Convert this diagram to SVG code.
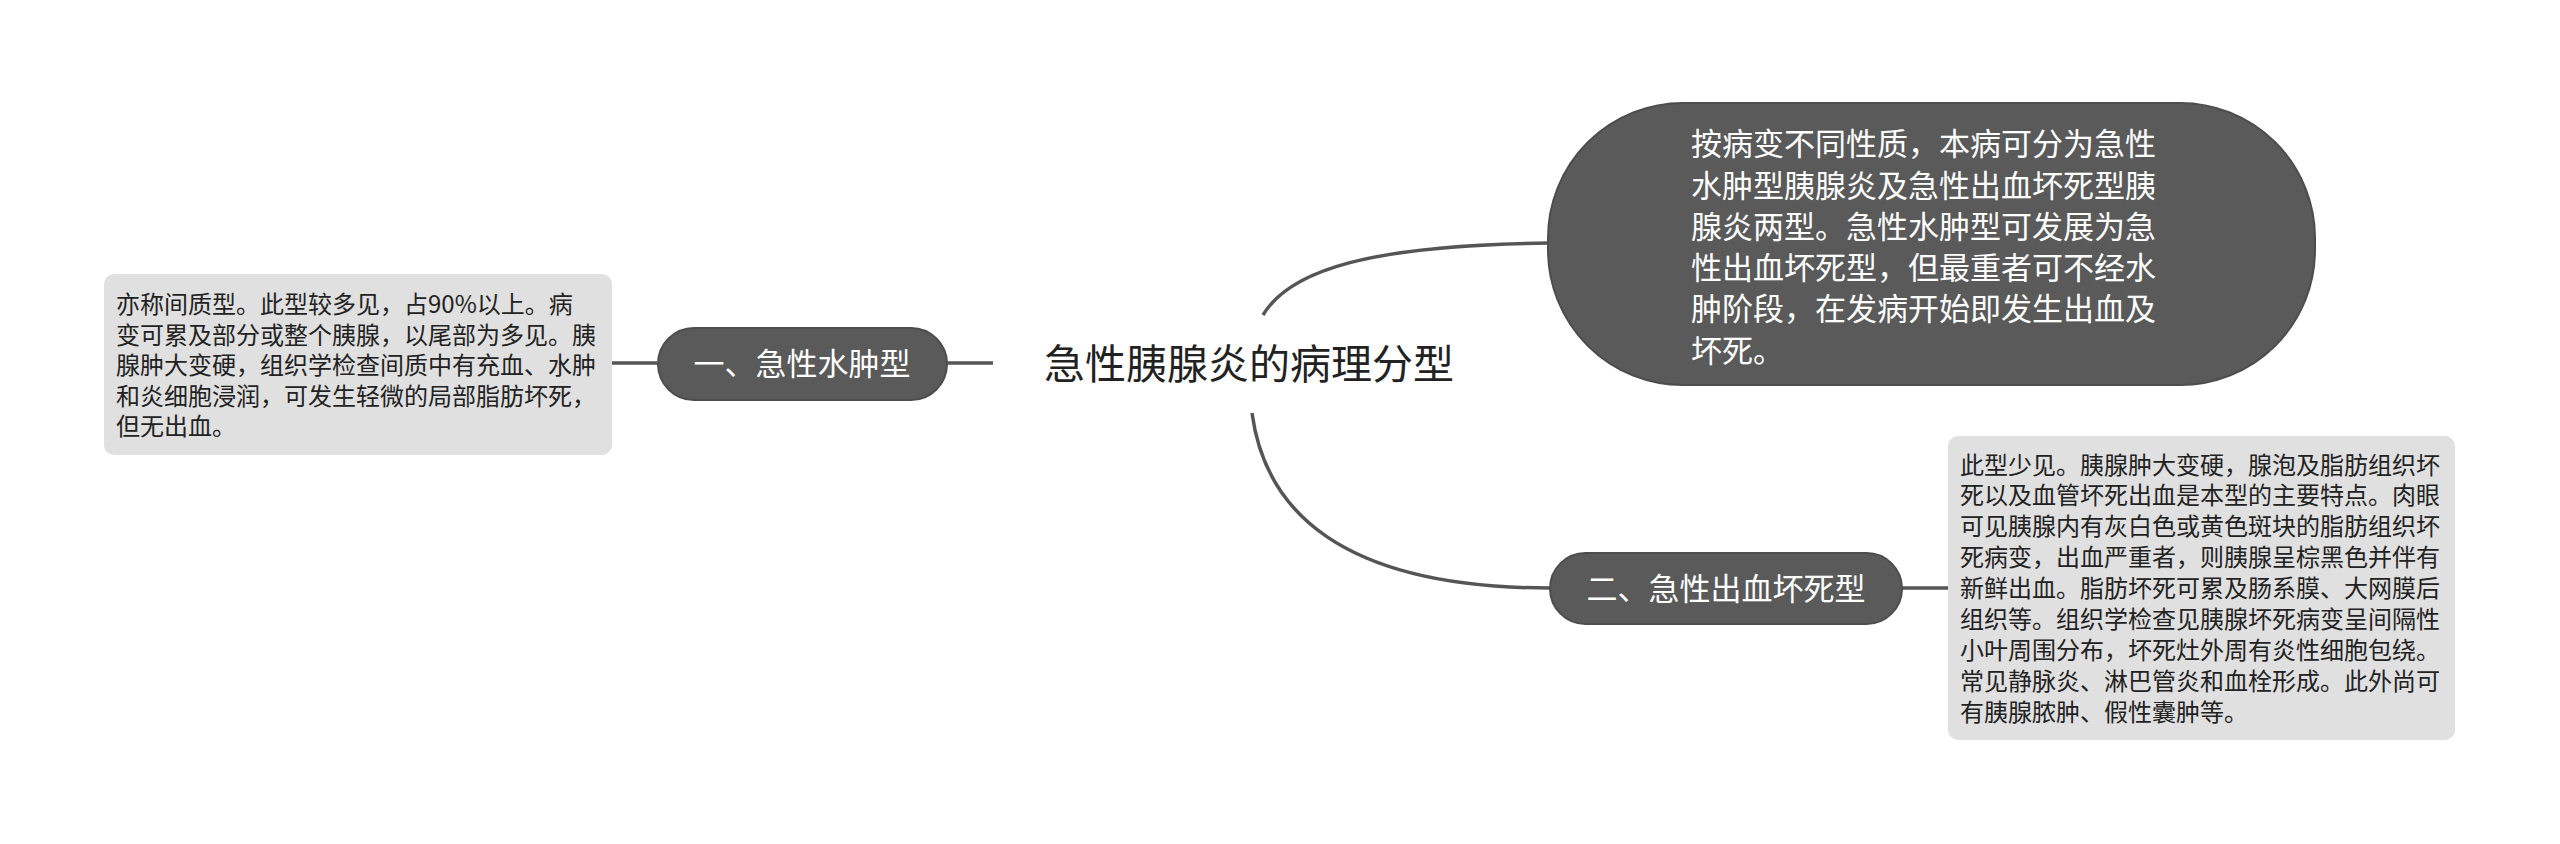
<svg xmlns="http://www.w3.org/2000/svg" width="2560" height="844" viewBox="0 0 2560 844">
<style>
  text { font-family: "Noto Sans CJK SC", "Microsoft YaHei", sans-serif; }
  .dark { fill: #5a5a5a; stroke: #4d4d4d; stroke-width: 2; }
  .note { fill: #e0e0e0; }
  .wt { fill: #ffffff; font-size: 31px; }
  .nt { fill: #222222; font-size: 24px; }
  .title { fill: #222222; font-size: 41px; }
  .conn { fill: none; stroke: #555555; stroke-width: 3.5; }
</style>
<rect width="2560" height="844" fill="#ffffff"/>
<g id="connectors">
  <path class="conn" d="M612,363 H657"/>
  <path class="conn" d="M947,363 H993"/>
  <path class="conn" d="M1263,315 C1290,270 1370,245 1549,243"/>
  <path class="conn" d="M1252,413 C1265,510 1340,588 1550,588"/>
  <path class="conn" d="M1902,588 H1948"/>
</g>
<g id="root">
  <text class="title" x="1249" y="379" text-anchor="middle">急性胰腺炎的病理分型</text>
</g>
<g id="node-edema">
  <rect class="dark" x="658" y="328" width="289" height="72" rx="36"/>
  <text class="wt" x="802" y="375" text-anchor="middle">一、急性水肿型</text>
</g>
<g id="note-edema">
  <rect class="note" x="104" y="274" width="508" height="181" rx="10"/>
  <text class="nt" x="116">
    <tspan x="116" y="313">亦称间质型。此型较多见，占90%以上。病</tspan>
    <tspan x="116" y="343.5">变可累及部分或整个胰腺，以尾部为多见。胰</tspan>
    <tspan x="116" y="374">腺肿大变硬，组织学检查间质中有充血、水肿</tspan>
    <tspan x="116" y="404.5">和炎细胞浸润，可发生轻微的局部脂肪坏死，</tspan>
    <tspan x="116" y="435">但无出血。</tspan>
  </text>
</g>
<g id="node-summary">
  <rect class="dark" x="1548" y="103" width="767" height="282" rx="135"/>
  <text class="wt" x="1691">
    <tspan x="1691" y="155">按病变不同性质，本病可分为急性</tspan>
    <tspan x="1691" y="197">水肿型胰腺炎及急性出血坏死型胰</tspan>
    <tspan x="1691" y="238">腺炎两型。急性水肿型可发展为急</tspan>
    <tspan x="1691" y="279">性出血坏死型，但最重者可不经水</tspan>
    <tspan x="1691" y="320">肿阶段，在发病开始即发生出血及</tspan>
    <tspan x="1691" y="362">坏死。</tspan>
  </text>
</g>
<g id="node-hemorrhagic">
  <rect class="dark" x="1550" y="553" width="352" height="71" rx="35.5"/>
  <text class="wt" x="1726" y="600" text-anchor="middle">二、急性出血坏死型</text>
</g>
<g id="note-hemorrhagic">
  <rect class="note" x="1948" y="436" width="507" height="304" rx="10"/>
  <text class="nt" x="1960">
    <tspan x="1960" y="473.5">此型少见。胰腺肿大变硬，腺泡及脂肪组织坏</tspan>
    <tspan x="1960" y="504.4">死以及血管坏死出血是本型的主要特点。肉眼</tspan>
    <tspan x="1960" y="535.3">可见胰腺内有灰白色或黄色斑块的脂肪组织坏</tspan>
    <tspan x="1960" y="566.2">死病变，出血严重者，则胰腺呈棕黑色并伴有</tspan>
    <tspan x="1960" y="597.1">新鲜出血。脂肪坏死可累及肠系膜、大网膜后</tspan>
    <tspan x="1960" y="628">组织等。组织学检查见胰腺坏死病变呈间隔性</tspan>
    <tspan x="1960" y="658.9">小叶周围分布，坏死灶外周有炎性细胞包绕。</tspan>
    <tspan x="1960" y="689.8">常见静脉炎、淋巴管炎和血栓形成。此外尚可</tspan>
    <tspan x="1960" y="720.7">有胰腺脓肿、假性囊肿等。</tspan>
  </text>
</g>
</svg>
